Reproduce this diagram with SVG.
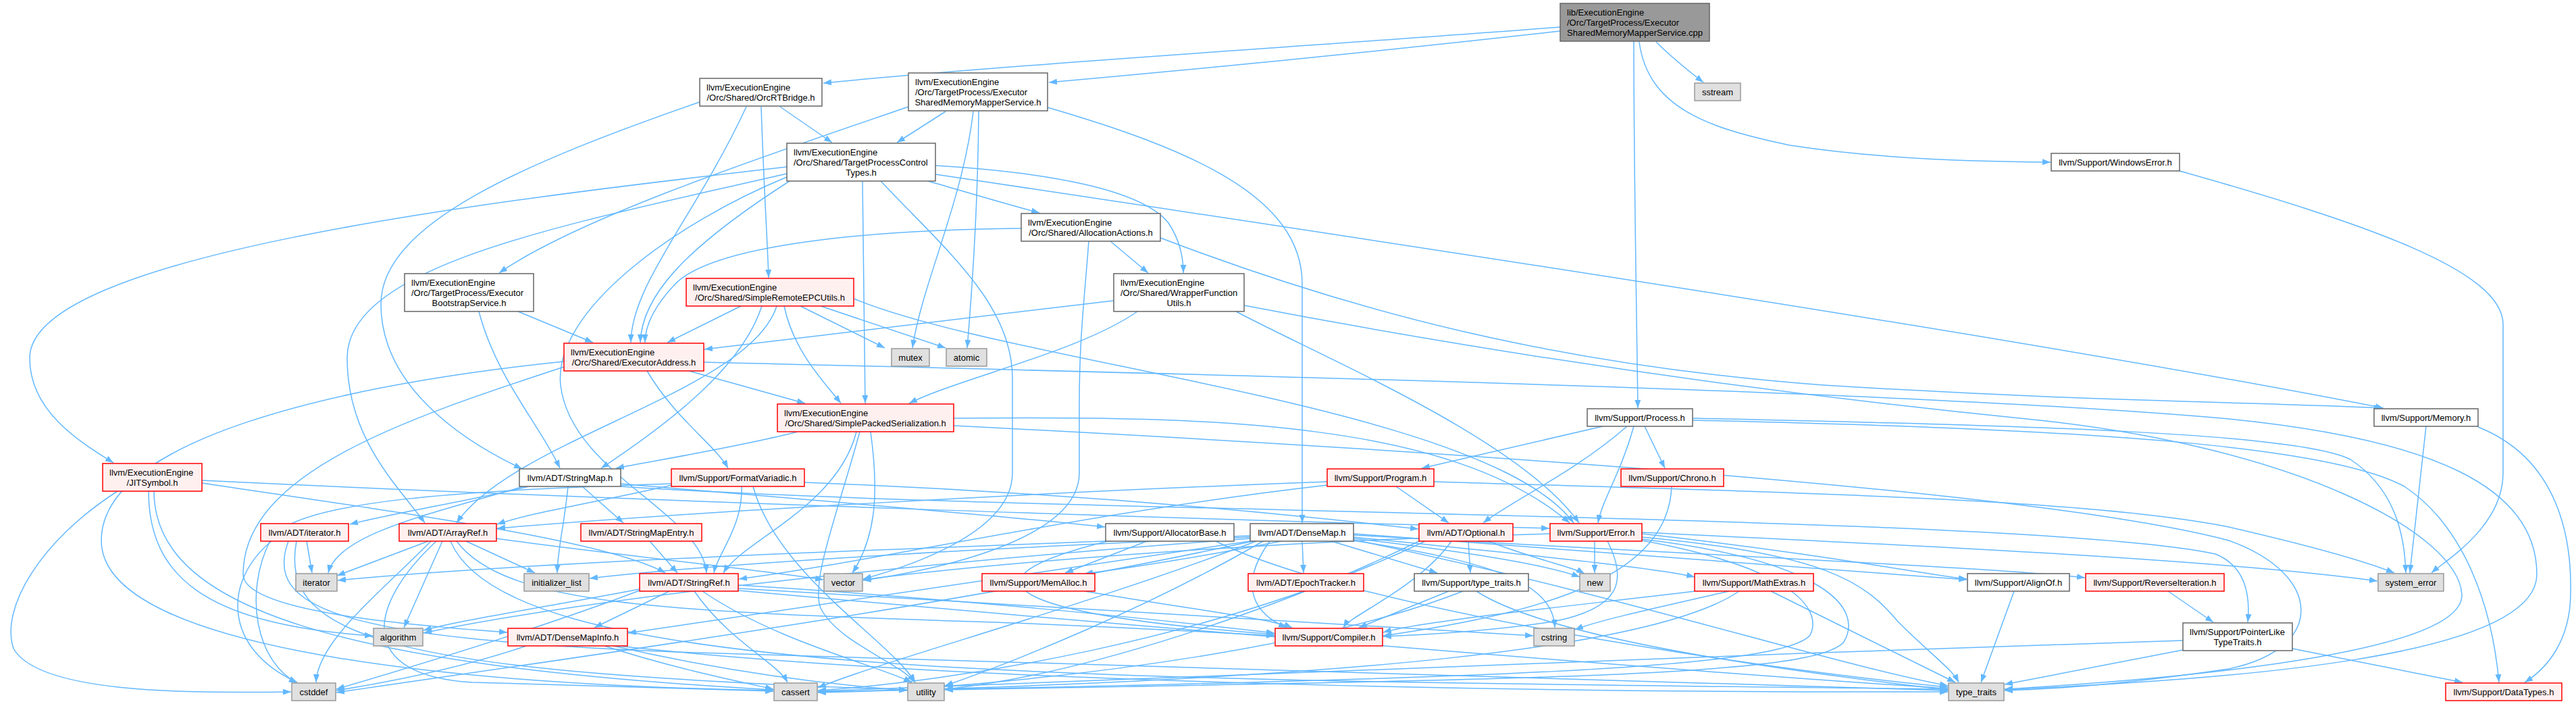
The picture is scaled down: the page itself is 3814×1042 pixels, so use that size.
<svg xmlns="http://www.w3.org/2000/svg" width="3814" height="1042" viewBox="0 0 3814 1042">
<defs>
<marker id="a" viewBox="0 0 12 9" refX="12" refY="4.5" markerWidth="12" markerHeight="9" markerUnits="userSpaceOnUse" orient="auto"><path d="M0,0 L12,4.5 L0,9 z" fill="#63b8ff"/></marker>
</defs>
<style>
.e path{fill:none;stroke:#63b8ff;stroke-width:1.5;marker-end:url(#a)}
rect{stroke-width:1.5}
.w rect{fill:#ffffff;stroke:#666666}
.r rect{fill:#fff0f0;stroke:#ff0000}
.g rect{fill:#e0e0e0;stroke:#999999}
.k rect{fill:#999999;stroke:#666666}
text{font-family:"Liberation Sans",Arial,Helvetica,sans-serif;font-size:13px;fill:#000}
.m{text-anchor:middle}
</style>
<rect width="3814" height="1042" fill="#ffffff" stroke="none"/>
<g id="edges" class="e">
<path d="M2310,40 C2000,64 1500,95 1219,123"/>
<path d="M2310,46 C2050,75 1800,100 1553,122"/>
<path d="M2419,61 C2419,250 2423,450 2425,604"/>
<path d="M2452,62 C2475,85 2500,105 2522,122"/>
<path d="M2427,62 C2440,160 2530,190 2650,215 C2800,238 2950,239 3036,240"/>
<path d="M1036,151 C780,240 564,330 564,450 C564,570 680,650 773,694"/>
<path d="M1105,158 C1030,320 935,420 934,507"/>
<path d="M1127,158 C1131,280 1136,350 1138,411"/>
<path d="M1155,158 L1232,211"/>
<path d="M1345,158 C1150,225 860,320 739,404"/>
<path d="M1400,165 L1328,211"/>
<path d="M1441,165 C1425,300 1365,420 1351,515"/>
<path d="M1449,165 C1448,300 1440,420 1432,515"/>
<path d="M1551,159 C1760,220 1928,290 1928,420 L1928,774"/>
<path d="M1165,247 C700,300 44,380 44,530 C44,610 120,655 168,685"/>
<path d="M1165,257 C850,330 514,390 514,530 C514,650 590,720 629,774"/>
<path d="M1165,262 C1000,330 818,460 830,570 C845,700 1040,760 1046,848"/>
<path d="M1169,268 C1010,370 950,440 948,507"/>
<path d="M1277,268 C1278,400 1280,500 1281,597"/>
<path d="M1304,268 C1400,370 1499,450 1499,560 L1499,700 C1499,790 1340,840 1278,857"/>
<path d="M1374,268 C1450,290 1500,305 1539,315"/>
<path d="M1385,245 C1550,255 1690,280 1730,330 C1750,360 1752,390 1752,404"/>
<path d="M1385,258 C2000,350 3000,500 3529,604"/>
<path d="M1718,352 C2000,460 2300,540 2700,570 C3100,595 3350,595 3527,604"/>
<path d="M1512,338 C1300,340 1060,360 1000,420 C962,460 955,490 955,507"/>
<path d="M1644,357 L1700,404"/>
<path d="M1612,357 C1605,450 1598,500 1598,600 L1598,700 C1598,800 1380,845 1278,859"/>
<path d="M709,461 C735,560 800,630 829,693"/>
<path d="M767,461 L878,507"/>
<path d="M1097,453 L988,507"/>
<path d="M1128,453 C1100,540 1000,620 890,693"/>
<path d="M1150,453 C1110,580 760,650 676,774"/>
<path d="M1161,453 C1175,520 1220,565 1245,597"/>
<path d="M1185,453 L1310,515"/>
<path d="M1215,453 L1400,515"/>
<path d="M1264,442 C1500,540 2200,600 2330,774"/>
<path d="M1649,445 C1400,475 1200,500 1043,517"/>
<path d="M1684,461 C1600,520 1420,560 1346,597"/>
<path d="M1830,461 C1960,530 2250,650 2338,774"/>
<path d="M1842,452 C2300,540 2700,590 3000,620 C3400,660 3640,790 3645,880 C3648,960 3300,1000 2968,1020"/>
<path d="M835,535 C500,570 150,650 150,800 C150,950 600,1012 1145,1022"/>
<path d="M835,543 C600,620 360,700 360,850 C360,905 600,925 751,936"/>
<path d="M958,549 C1000,620 1060,660 1078,693"/>
<path d="M1020,549 L1192,597"/>
<path d="M1042,536 C1600,550 2800,575 3300,620 C3600,650 3756,720 3756,850 C3756,975 3300,1005 2968,1021"/>
<path d="M1181,639 C1100,660 980,680 912,693"/>
<path d="M1268,639 C1240,750 1100,800 1071,848"/>
<path d="M1289,639 C1300,720 1300,790 1262,848"/>
<path d="M1273,639 C1240,760 1200,860 1215,900 C1240,950 1330,980 1355,1010"/>
<path d="M1412,619 C1800,615 2150,625 2324,774"/>
<path d="M1412,630 C2000,660 3000,720 3300,800 C3440,850 3445,960 3300,990 C3150,1012 3050,1020 2968,1022"/>
<path d="M995,718 C900,740 780,760 736,776"/>
<path d="M1191,714 C1600,730 1900,760 2100,783"/>
<path d="M1098,720 C1100,780 1062,820 1057,848"/>
<path d="M1115,720 C1150,850 1320,950 1355,1010"/>
<path d="M994,716 C700,725 430,740 400,800 C360,880 380,980 440,1011"/>
<path d="M862,720 L923,774"/>
<path d="M783,720 C700,740 580,760 518,776"/>
<path d="M775,720 C640,760 500,790 486,848"/>
<path d="M841,720 C835,780 826,810 825,848"/>
<path d="M919,716 C1200,740 1450,760 1636,780"/>
<path d="M919,720 C1500,760 3000,760 3280,820 C3330,840 3331,890 3328,921"/>
<path d="M962,801 L1003,848"/>
<path d="M454,801 L462,848"/>
<path d="M402,801 C330,860 330,960 440,1010"/>
<path d="M427,801 C390,900 500,945 1000,965 C2000,995 2600,1012 2884,1022"/>
<path d="M439,801 C410,950 600,995 1343,1021"/>
<path d="M634,801 L499,852"/>
<path d="M690,801 L792,848"/>
<path d="M735,797 C900,820 1100,840 1219,858"/>
<path d="M655,801 L598,929"/>
<path d="M638,801 C560,880 470,950 468,1010"/>
<path d="M646,801 C540,900 530,1000 700,1010 C900,1016 1050,1021 1145,1023"/>
<path d="M676,801 C750,900 1000,905 1500,922 C1700,930 1800,936 1887,941"/>
<path d="M667,801 C750,1000 1500,1005 2884,1020"/>
<path d="M991,875 L880,929"/>
<path d="M947,872 C800,900 680,918 627,933"/>
<path d="M947,874 C800,930 600,990 498,1020"/>
<path d="M1028,875 C1080,950 1150,980 1166,1010"/>
<path d="M1093,866 C1400,885 1700,915 1887,937"/>
<path d="M1093,871 C1500,895 2000,925 2270,941"/>
<path d="M1093,874 C1600,920 2500,995 2884,1019"/>
<path d="M1040,875 C1150,950 1300,985 1350,1010"/>
<path d="M779,956 C680,990 560,1012 498,1022"/>
<path d="M895,956 C1000,990 1100,1010 1145,1020"/>
<path d="M908,956 C1100,1000 1250,1015 1343,1022"/>
<path d="M915,956 C1500,1020 2500,1025 2884,1024"/>
<path d="M299,711 C900,740 1800,770 2294,782"/>
<path d="M299,715 C600,760 900,800 985,848"/>
<path d="M174,727 C60,800 0,900 20,960 C60,1030 300,1025 431,1024"/>
<path d="M220,727 C220,850 300,925 552,941"/>
<path d="M228,727 C228,900 500,985 1145,1021"/>
<path d="M2373,631 L2105,693"/>
<path d="M2409,631 C2330,700 2240,740 2196,774"/>
<path d="M2419,631 C2400,700 2372,740 2366,774"/>
<path d="M2435,631 L2465,693"/>
<path d="M2506,619 C3000,630 3400,640 3480,680 C3540,720 3560,780 3562,848"/>
<path d="M2506,622 C3100,635 3450,660 3560,720 C3650,780 3690,900 3700,1010"/>
<path d="M2067,720 L2145,774"/>
<path d="M1965,713 C1500,730 1000,760 736,782"/>
<path d="M1965,718 C1600,760 1300,830 1094,857"/>
<path d="M2123,713 C2700,730 3100,740 3300,780 C3430,810 3500,830 3545,848"/>
<path d="M2475,720 C2470,850 2300,905 2048,941"/>
<path d="M1698,801 L1577,848"/>
<path d="M1640,801 C1400,860 1500,910 1887,939"/>
<path d="M1800,801 C2000,900 2600,990 2884,1017"/>
<path d="M1928,801 L1930,848"/>
<path d="M1971,801 L2128,848"/>
<path d="M1897,801 C1800,820 1680,840 1606,849"/>
<path d="M1880,801 C1830,870 1860,910 1905,929"/>
<path d="M2004,790 C2400,820 2800,850 2912,858"/>
<path d="M2004,792 C2500,820 2950,840 3087,855"/>
<path d="M2004,795 C2250,820 2450,840 2509,854"/>
<path d="M2004,797 C2200,820 2300,840 2339,854"/>
<path d="M2004,800 C2200,830 2300,860 2302,929"/>
<path d="M1851,801 C1500,850 1200,900 930,937"/>
<path d="M1851,797 C1400,830 900,880 627,937"/>
<path d="M1851,795 C1500,810 1100,830 873,856"/>
<path d="M1851,793 C1400,810 800,830 500,859"/>
<path d="M1860,801 C1600,900 1300,980 1211,1018"/>
<path d="M1855,801 C1400,900 800,980 498,1025"/>
<path d="M1870,801 C1700,900 1500,980 1399,1015"/>
<path d="M2004,799 C2400,880 2700,980 2884,1015"/>
<path d="M2149,801 C2100,870 2000,910 1989,929"/>
<path d="M2174,801 L2177,848"/>
<path d="M2203,801 C2280,830 2330,840 2346,849"/>
<path d="M2110,801 C1800,950 1400,1010 1211,1022"/>
<path d="M2105,799 C1900,900 1600,1000 1399,1020"/>
<path d="M2361,801 L2361,848"/>
<path d="M2380,801 C2410,860 2400,900 2300,920 C2200,935 2100,940 2048,942"/>
<path d="M2431,790 C2700,820 2850,850 2912,857"/>
<path d="M2431,788 C2900,810 3300,830 3520,860"/>
<path d="M2431,795 C2700,820 2760,860 2810,920 C2860,970 2890,990 2900,1010"/>
<path d="M2431,798 C2700,830 2760,900 2730,950 C2690,1000 2300,1005 1399,1021"/>
<path d="M2431,800 C2650,840 2700,900 2680,940 C2640,990 2200,1005 1211,1024"/>
<path d="M2295,790 C1900,800 1500,830 1278,858"/>
<path d="M2145,875 L2012,929"/>
<path d="M2186,875 C2300,950 2700,1000 2884,1021"/>
<path d="M2166,875 C1950,960 1600,1000 1399,1016"/>
<path d="M1606,875 C1750,900 1880,915 1913,929"/>
<path d="M2510,875 C2300,900 2100,920 2048,936"/>
<path d="M2560,875 C2450,900 2360,920 2332,932"/>
<path d="M2622,875 L2895,1010"/>
<path d="M2575,875 C2450,960 2000,1005 1211,1025"/>
<path d="M2982,875 L2933,1010"/>
<path d="M3210,875 L3277,921"/>
<path d="M3394,960 L3646,1010"/>
<path d="M3232,962 L2968,1013"/>
<path d="M3232,948 C2500,970 1600,1010 1211,1023"/>
<path d="M3592,631 L3568,848"/>
<path d="M3669,632 C3790,680 3808,800 3806,880 C3805,950 3770,990 3738,1010"/>
<path d="M3227,253 C3500,330 3706,400 3706,480 L3706,700 C3706,780 3620,830 3600,848"/>
</g>
<g id="n_root" class="k"><rect x="2310" y="5" width="221" height="56"/><text x="2320" y="23">lib/ExecutionEngine</text><text x="2320" y="38">/Orc/TargetProcess/Executor</text><text class="m" x="2420.5" y="53">SharedMemoryMapperService.cpp</text></g>
<g id="n_smms" class="w"><rect x="1345" y="108" width="206" height="56"/><text x="1355" y="126">llvm/ExecutionEngine</text><text x="1355" y="141">/Orc/TargetProcess/Executor</text><text class="m" x="1448" y="156">SharedMemoryMapperService.h</text></g>
<g id="n_orcrt" class="w"><rect x="1036" y="116" width="181" height="41"/><text x="1046" y="133.5">llvm/ExecutionEngine</text><text class="m" x="1126.5" y="148.5">/Orc/Shared/OrcRTBridge.h</text></g>
<g id="n_sstream" class="g"><rect x="2509" y="123" width="68" height="26"/><text class="m" x="2543" y="140.5">sstream</text></g>
<g id="n_winerr" class="w"><rect x="3037" y="227" width="190" height="26"/><text class="m" x="3132" y="244.5">llvm/Support/WindowsError.h</text></g>
<g id="n_tpct" class="w"><rect x="1165" y="212" width="220" height="56"/><text x="1175" y="230">llvm/ExecutionEngine</text><text x="1175" y="245">/Orc/Shared/TargetProcessControl</text><text class="m" x="1275" y="260">Types.h</text></g>
<g id="n_aa" class="w"><rect x="1512" y="316" width="206" height="41"/><text x="1522" y="333.5">llvm/ExecutionEngine</text><text class="m" x="1615" y="348.5">/Orc/Shared/AllocationActions.h</text></g>
<g id="n_ebs" class="w"><rect x="599" y="405" width="191" height="56"/><text x="609" y="423">llvm/ExecutionEngine</text><text x="609" y="438">/Orc/TargetProcess/Executor</text><text class="m" x="694.5" y="453">BootstrapService.h</text></g>
<g id="n_srepc" class="r"><rect x="1016" y="412" width="248" height="41"/><text x="1026" y="429.5">llvm/ExecutionEngine</text><text class="m" x="1140" y="444.5">/Orc/Shared/SimpleRemoteEPCUtils.h</text></g>
<g id="n_wfu" class="w"><rect x="1649" y="405" width="193" height="56"/><text x="1659" y="423">llvm/ExecutionEngine</text><text x="1659" y="438">/Orc/Shared/WrapperFunction</text><text class="m" x="1745.5" y="453">Utils.h</text></g>
<g id="n_ea" class="r"><rect x="835" y="508" width="207" height="41"/><text x="845" y="525.5">llvm/ExecutionEngine</text><text class="m" x="938.5" y="540.5">/Orc/Shared/ExecutorAddress.h</text></g>
<g id="n_mutex" class="g"><rect x="1320" y="516" width="56" height="26"/><text class="m" x="1348" y="533.5">mutex</text></g>
<g id="n_atomic" class="g"><rect x="1401" y="516" width="60" height="26"/><text class="m" x="1431" y="533.5">atomic</text></g>
<g id="n_sps" class="r"><rect x="1151" y="598" width="261" height="41"/><text x="1161" y="615.5">llvm/ExecutionEngine</text><text class="m" x="1281.5" y="630.5">/Orc/Shared/SimplePackedSerialization.h</text></g>
<g id="n_process" class="w"><rect x="2350" y="605" width="156" height="26"/><text class="m" x="2428" y="622.5">llvm/Support/Process.h</text></g>
<g id="n_memory" class="w"><rect x="3515" y="605" width="154" height="26"/><text class="m" x="3592" y="622.5">llvm/Support/Memory.h</text></g>
<g id="n_jit" class="r"><rect x="152" y="686" width="147" height="41"/><text x="162" y="703.5">llvm/ExecutionEngine</text><text class="m" x="225.5" y="718.5">/JITSymbol.h</text></g>
<g id="n_stringmap" class="w"><rect x="769" y="694" width="150" height="26"/><text class="m" x="844" y="711.5">llvm/ADT/StringMap.h</text></g>
<g id="n_fv" class="r"><rect x="994" y="694" width="197" height="26"/><text class="m" x="1092.5" y="711.5">llvm/Support/FormatVariadic.h</text></g>
<g id="n_program" class="r"><rect x="1965" y="694" width="158" height="26"/><text class="m" x="2044" y="711.5">llvm/Support/Program.h</text></g>
<g id="n_chrono" class="r"><rect x="2400" y="694" width="152" height="26"/><text class="m" x="2476" y="711.5">llvm/Support/Chrono.h</text></g>
<g id="n_iterh" class="r"><rect x="386" y="775" width="130" height="26"/><text class="m" x="451" y="792.5">llvm/ADT/iterator.h</text></g>
<g id="n_arrayref" class="r"><rect x="591" y="775" width="144" height="26"/><text class="m" x="663" y="792.5">llvm/ADT/ArrayRef.h</text></g>
<g id="n_sme" class="r"><rect x="860" y="775" width="179" height="26"/><text class="m" x="949.5" y="792.5">llvm/ADT/StringMapEntry.h</text></g>
<g id="n_allocbase" class="w"><rect x="1637" y="775" width="190" height="26"/><text class="m" x="1732" y="792.5">llvm/Support/AllocatorBase.h</text></g>
<g id="n_densemap" class="w"><rect x="1851" y="775" width="153" height="26"/><text class="m" x="1927.5" y="792.5">llvm/ADT/DenseMap.h</text></g>
<g id="n_optional" class="r"><rect x="2101" y="775" width="139" height="26"/><text class="m" x="2170.5" y="792.5">llvm/ADT/Optional.h</text></g>
<g id="n_error" class="r"><rect x="2295" y="775" width="136" height="26"/><text class="m" x="2363" y="792.5">llvm/Support/Error.h</text></g>
<g id="n_iterator" class="g"><rect x="438" y="849" width="61" height="26"/><text class="m" x="468.5" y="866.5">iterator</text></g>
<g id="n_initlist" class="g"><rect x="776" y="849" width="96" height="26"/><text class="m" x="824" y="866.5">initializer_list</text></g>
<g id="n_stringref" class="r"><rect x="947" y="849" width="146" height="26"/><text class="m" x="1020" y="866.5">llvm/ADT/StringRef.h</text></g>
<g id="n_vector" class="g"><rect x="1220" y="849" width="57" height="26"/><text class="m" x="1248.5" y="866.5">vector</text></g>
<g id="n_memalloc" class="r"><rect x="1454" y="849" width="167" height="26"/><text class="m" x="1537.5" y="866.5">llvm/Support/MemAlloc.h</text></g>
<g id="n_epoch" class="r"><rect x="1848" y="849" width="171" height="26"/><text class="m" x="1933.5" y="866.5">llvm/ADT/EpochTracker.h</text></g>
<g id="n_typetraitsh" class="w"><rect x="2094" y="849" width="169" height="26"/><text class="m" x="2178.5" y="866.5">llvm/Support/type_traits.h</text></g>
<g id="n_new" class="g"><rect x="2339" y="849" width="45" height="26"/><text class="m" x="2361.5" y="866.5">new</text></g>
<g id="n_mathextras" class="r"><rect x="2509" y="849" width="176" height="26"/><text class="m" x="2597" y="866.5">llvm/Support/MathExtras.h</text></g>
<g id="n_alignof" class="w"><rect x="2913" y="849" width="151" height="26"/><text class="m" x="2988.5" y="866.5">llvm/Support/AlignOf.h</text></g>
<g id="n_reviter" class="r"><rect x="3088" y="849" width="205" height="26"/><text class="m" x="3190.5" y="866.5">llvm/Support/ReverseIteration.h</text></g>
<g id="n_syserr" class="g"><rect x="3521" y="849" width="97" height="26"/><text class="m" x="3569.5" y="866.5">system_error</text></g>
<g id="n_algorithm" class="g"><rect x="553" y="930" width="73" height="26"/><text class="m" x="589.5" y="947.5">algorithm</text></g>
<g id="n_dmi" class="r"><rect x="752" y="930" width="177" height="26"/><text class="m" x="840.5" y="947.5">llvm/ADT/DenseMapInfo.h</text></g>
<g id="n_compiler" class="r"><rect x="1888" y="930" width="159" height="26"/><text class="m" x="1967.5" y="947.5">llvm/Support/Compiler.h</text></g>
<g id="n_cstring" class="g"><rect x="2271" y="930" width="60" height="26"/><text class="m" x="2301" y="947.5">cstring</text></g>
<g id="n_plt" class="w"><rect x="3232" y="922" width="162" height="41"/><text x="3242" y="939.5">llvm/Support/PointerLike</text><text class="m" x="3313" y="954.5">TypeTraits.h</text></g>
<g id="n_cstddef" class="g"><rect x="432" y="1011" width="65" height="26"/><text class="m" x="464.5" y="1028.5">cstddef</text></g>
<g id="n_cassert" class="g"><rect x="1146" y="1011" width="64" height="26"/><text class="m" x="1178" y="1028.5">cassert</text></g>
<g id="n_utility" class="g"><rect x="1344" y="1011" width="54" height="26"/><text class="m" x="1371" y="1028.5">utility</text></g>
<g id="n_typetraits" class="g"><rect x="2885" y="1011" width="82" height="26"/><text class="m" x="2926" y="1028.5">type_traits</text></g>
<g id="n_datatypes" class="r"><rect x="3621" y="1011" width="172" height="26"/><text class="m" x="3707" y="1028.5">llvm/Support/DataTypes.h</text></g>
</svg>
